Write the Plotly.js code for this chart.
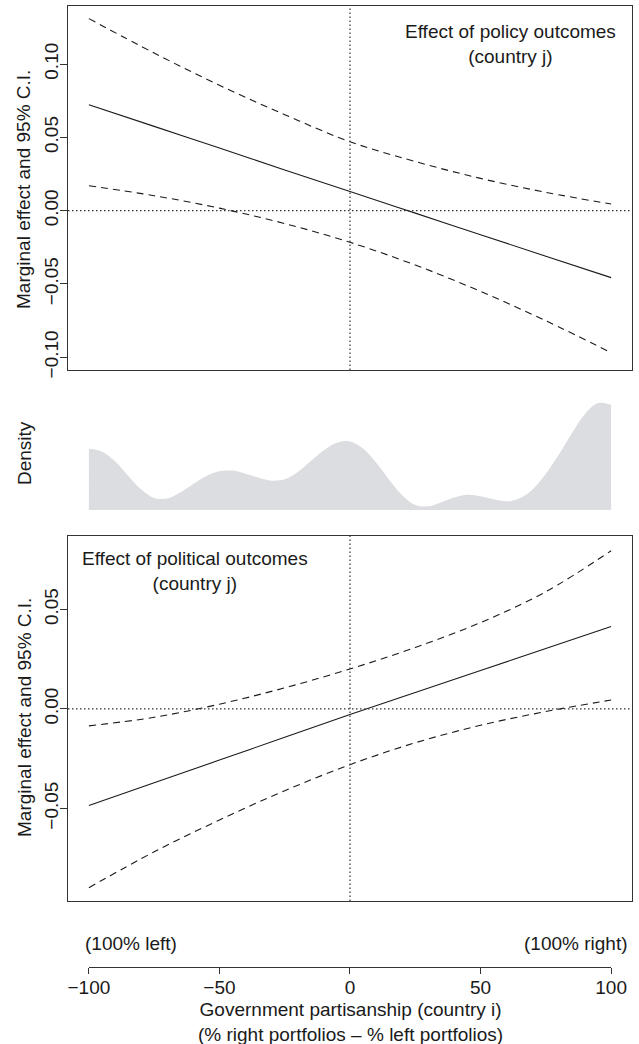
<!DOCTYPE html>
<html>
<head>
<meta charset="utf-8">
<script src="https://cdn.plot.ly/plotly-3.0.1.min.js"></script>
<style>html,body{margin:0;padding:0;background:#fff;}#chart{width:639px;height:1044px;}</style>
</head>
<body>
<div id="chart"></div>
<script>
// ---- data ----
var partisanship = [-100, -75, -50, -25, 0, 25, 50, 75, 100];

var policyEffect = [0.0723, 0.0575, 0.0427, 0.0278, 0.0130, -0.0017, -0.0164, -0.0311, -0.0457];
var policyUpper  = [0.1310, 0.1075, 0.0855, 0.0655, 0.0470, 0.0335, 0.0220, 0.0125, 0.0045];
var policyLower  = [0.0170, 0.0102, 0.0017, -0.0088, -0.0216, -0.0371, -0.0551, -0.0751, -0.0969];

var politicalEffect = [-0.0485, -0.0371, -0.0257, -0.0142, -0.0028, 0.0083, 0.0193, 0.0304, 0.0414];
var politicalUpper  = [-0.0085, -0.0042, 0.0024, 0.0106, 0.0201, 0.0309, 0.0434, 0.0589, 0.0795];
var politicalLower  = [-0.0898, -0.0718, -0.0558, -0.0411, -0.0280, -0.0170, -0.0082, -0.0013, 0.0045];

var densityX = [-100, -95, -90, -85, -80, -75, -70, -65, -60, -55, -50, -45, -40, -35, -30, -25, -20, -15, -10, -5,
                0, 5, 10, 15, 20, 25, 30, 35, 40, 45, 50, 55, 60, 65, 70, 75, 80, 85, 90, 95, 100];
var densityY = [0.00455, 0.00433, 0.00363, 0.00255, 0.00155, 0.00090, 0.00085, 0.00130, 0.00193, 0.00253,
                0.00288, 0.00293, 0.00270, 0.00240, 0.00218, 0.00228, 0.00283, 0.00365, 0.00445, 0.00500,
                0.00510, 0.00458, 0.00353, 0.00225, 0.00110, 0.00038, 0.00028, 0.00058, 0.00093, 0.00113,
                0.00103, 0.00080, 0.00065, 0.00088, 0.00155, 0.00270, 0.00413, 0.00570, 0.00713, 0.00795, 0.00783];

var xTickVals = [-100, -50, 0, 50, 100];
var xTickText = ['\u2212100', '\u221250', '0', '50', '100'];
var topYTickVals = [-0.10, -0.05, 0.00, 0.05, 0.10];
var topYTickText = ['\u22120.10', '\u22120.05', '0.00', '0.05', '0.10'];
var botYTickVals = [-0.05, 0.00, 0.05];
var botYTickText = ['\u22120.05', '0.00', '0.05'];

// ---- layout geometry (pixels -> paper) ----
var W = 639, H = 1044;
function px(x) { return x / W; }
function py(y) { return 1 - y / H; }
var panelL = 68, panelR = 632;
var xRange = [-108, 108];
function xPix(v) { return panelL + (v - xRange[0]) / (xRange[1] - xRange[0]) * (panelR - panelL); }

var FONT = 'Liberation Sans, Arial, Helvetica, sans-serif';
var FS = 19;
var ink = '#1a1a1a';
var frame = '#333333';

function ciLine(x, y, xa, ya, dash) {
  return {x: x, y: y, xaxis: xa, yaxis: ya, mode: 'lines', hoverinfo: 'skip', showlegend: false,
          line: {color: ink, width: 1.1, dash: dash, shape: 'spline', smoothing: 1}};
}

var traces = [
  ciLine(partisanship, policyUpper, 'x', 'y', '7px,5px'),
  ciLine(partisanship, policyEffect, 'x', 'y', 'solid'),
  ciLine(partisanship, policyLower, 'x', 'y', '7px,5px'),
  {x: densityX, y: densityY, xaxis: 'x2', yaxis: 'y2', mode: 'lines', fill: 'tozeroy',
   fillcolor: '#dcdde0', line: {width: 0, color: '#dcdde0', shape: 'spline', smoothing: 1},
   hoverinfo: 'skip', showlegend: false},
  ciLine(partisanship, politicalUpper, 'x3', 'y3', '7px,5px'),
  ciLine(partisanship, politicalEffect, 'x3', 'y3', 'solid'),
  ciLine(partisanship, politicalLower, 'x3', 'y3', '7px,5px'),
  {x: [xTickVals[0], xTickVals[xTickVals.length - 1]], y: [0, 0], xaxis: 'x4', yaxis: 'y4',
   mode: 'lines', line: {width: 0}, opacity: 0, hoverinfo: 'skip', showlegend: false}
];

var boxX = function (anchor) {
  return {domain: [px(panelL), px(panelR)], range: xRange, anchor: anchor, showticklabels: false,
          ticks: '', showgrid: false, zeroline: false, showline: true, mirror: true,
          linecolor: frame, linewidth: 1};
};
var boxY = function (anchor, dom, rng, tv, tt) {
  return {domain: dom, range: rng, anchor: anchor, tickvals: tv, ticktext: tt, ticks: 'outside',
          ticklen: 7, tickcolor: frame, tickwidth: 1, tickangle: -90, showgrid: false, zeroline: false,
          showline: true, mirror: true, linecolor: frame, linewidth: 1,
          tickfont: {family: FONT, size: FS, color: ink}, ticklabelstandoff: -6};
};

var dotRef = {color: '#333333', width: 1.2, dash: '1.5px,2.5px'};

var layout = {
  width: W, height: H,
  margin: {l: 0, r: 0, t: 0, b: 0, pad: 0},
  paper_bgcolor: '#ffffff', plot_bgcolor: 'rgba(0,0,0,0)',
  font: {family: FONT, size: FS, color: ink},
  showlegend: false,
  xaxis: boxX('y'),
  yaxis: boxY('x', [py(370), py(6)], [-0.1087, 0.1396], topYTickVals, topYTickText),
  xaxis2: {domain: [px(panelL), px(panelR)], range: xRange, anchor: 'y2', visible: false},
  yaxis2: {domain: [py(510), py(402)], range: [0, 0.00803], anchor: 'x2', visible: false},
  xaxis3: boxX('y3'),
  yaxis3: boxY('x3', [py(901), py(536)], [-0.0965, 0.0869], botYTickVals, botYTickText),
  xaxis4: {domain: [px(xPix(-100)), px(xPix(100))], range: [-100, 100], anchor: 'y4',
           tickvals: xTickVals, ticktext: xTickText, ticks: 'outside', ticklen: 6, tickcolor: frame,
           showline: true, linecolor: frame, linewidth: 1, showgrid: false, zeroline: false,
           ticklabelstandoff: -3,
           tickfont: {family: FONT, size: FS, color: ink}},
  yaxis4: {domain: [py(967), py(966)], range: [0, 1], anchor: 'x4', visible: false},
  shapes: [
    {type: 'line', xref: 'x', yref: 'y domain', x0: 0, x1: 0, y0: 0, y1: 1, line: dotRef},
    {type: 'line', xref: 'x domain', yref: 'y', x0: 0, x1: 1, y0: 0, y1: 0, line: dotRef},
    {type: 'line', xref: 'x3', yref: 'y3 domain', x0: 0, x1: 0, y0: 0, y1: 1, line: dotRef},
    {type: 'line', xref: 'x3 domain', yref: 'y3', x0: 0, x1: 1, y0: 0, y1: 0, line: dotRef}
  ],
  annotations: [
    {text: 'Effect of policy outcomes<br>(country j)', xref: 'paper', yref: 'paper',
     x: px(510), y: py(44), xanchor: 'center', yanchor: 'middle', align: 'center', showarrow: false},
    {text: 'Effect of political outcomes<br>(country j)', xref: 'paper', yref: 'paper',
     x: px(195), y: py(571), xanchor: 'center', yanchor: 'middle', align: 'center', showarrow: false},
    {text: 'Marginal effect and 95% C.I.', xref: 'paper', yref: 'paper', textangle: -90,
     x: px(24), y: py(190), xanchor: 'center', yanchor: 'middle', showarrow: false},
    {text: 'Marginal effect and 95% C.I.', xref: 'paper', yref: 'paper', textangle: -90,
     x: px(24), y: py(718), xanchor: 'center', yanchor: 'middle', showarrow: false},
    {text: 'Density', xref: 'paper', yref: 'paper', textangle: -90,
     x: px(24), y: py(453), xanchor: 'center', yanchor: 'middle', showarrow: false},
    {text: '(100% left)', xref: 'paper', yref: 'paper',
     x: px(83), y: py(943), xanchor: 'left', yanchor: 'middle', showarrow: false},
    {text: '(100% right)', xref: 'paper', yref: 'paper',
     x: px(630), y: py(943), xanchor: 'right', yanchor: 'middle', showarrow: false},
    {text: 'Government partisanship (country i)<br>(% right portfolios \u2013 % left portfolios)',
     xref: 'paper', yref: 'paper', x: px(xPix(0)), y: py(1022), xanchor: 'center', yanchor: 'middle',
     align: 'center', showarrow: false}
  ]
};

Plotly.newPlot('chart', traces, layout, {staticPlot: true, displayModeBar: false});
</script>
</body>
</html>
